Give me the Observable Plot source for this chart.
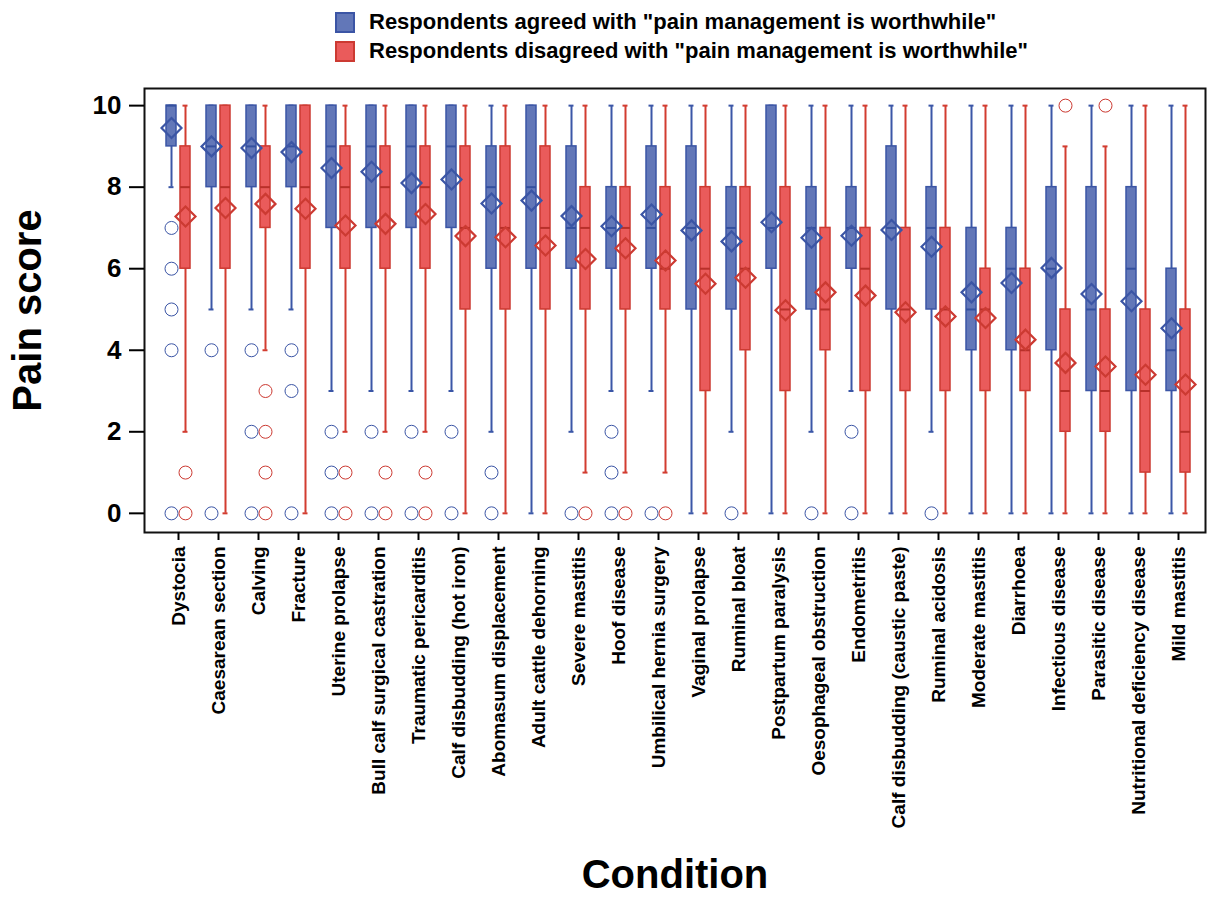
<!DOCTYPE html>
<html>
<head>
<meta charset="utf-8">
<script src="https://cdn.jsdelivr.net/npm/d3@7"></script>
<script src="https://cdn.jsdelivr.net/npm/@observablehq/plot@0.6"></script>
<style>
  body { margin: 0; background: #fff; font-family: "Liberation Sans", Arial, sans-serif; }
  #legend { position: relative; height: 70px; width: 1208px; }
  .sw { position: absolute; width: 20px; height: 21px; box-sizing: border-box; }
  .lt { position: absolute; font-weight: bold; font-size: 22px; color: #000; white-space: nowrap; }
</style>
</head>
<body>
<div id="legend">
  <div class="sw" style="left:335px;top:12px;background:#6277b8;border:2px solid #3b55a5"></div>
  <div class="lt" style="left:369px;top:9px">Respondents agreed with "pain management is worthwhile"</div>
  <div class="sw" style="left:335px;top:41px;background:#ea5b5b;border:2px solid #cc3a32"></div>
  <div class="lt" style="left:369px;top:38px">Respondents disagreed with "pain management is worthwhile"</div>
</div>
<div id="chart"></div>
<script>
const conditions = ["Dystocia","Caesarean section","Calving","Fracture","Uterine prolapse","Bull calf surgical castration","Traumatic pericarditis","Calf disbudding (hot iron)","Abomasum displacement","Adult cattle dehorning","Severe mastitis","Hoof disease","Umbilical hernia surgery","Vaginal prolapse","Ruminal bloat","Postpartum paralysis","Oesophageal obstruction","Endometritis","Calf disbudding (caustic paste)","Ruminal acidosis","Moderate mastitis","Diarrhoea","Infectious disease","Parasitic disease","Nutritional deficiency disease","Mild mastitis"];

// Agreed group (blue)
const agreeMin  = [8,5,5,5,3,3,3,3,2,0,2,3,3,0,2,0,2,3,0,2,0,0,0,0,0,0];
const agreeQ1   = [9,8,8,8,7,7,7,7,6,6,6,6,6,5,5,6,5,6,5,5,4,4,4,3,3,3];
const agreeMed  = [10,9,9,9,9,9,9,9,8,8,7,7,7,7,7,7,7,7,7,7,5,6,6,5,6,4];
const agreeQ3   = [10,10,10,10,10,10,10,10,9,10,9,8,9,9,8,10,8,8,9,8,7,7,8,8,8,6];
const agreeMax  = [10,10,10,10,10,10,10,10,10,10,10,10,10,10,10,10,10,10,10,10,10,10,10,10,10,10];
const agreeMean = [9.45,9.0,8.96,8.86,8.47,8.38,8.1,8.19,7.6,7.67,7.29,7.04,7.33,6.94,6.67,7.14,6.76,6.81,6.95,6.54,5.42,5.65,6.02,5.38,5.2,4.54];
const agreeOutliers = [[7,6,5,4,0],[4,0],[4,2,0],[4,3,0],[2,1,0],[2,0],[2,0],[2,0],[1,0],[],[0],[2,1,0],[0],[],[0],[],[0],[2,0],[],[0],[],[],[],[],[],[]];

// Disagreed group (red)
const disagreeMin  = [2,0,4,0,2,2,2,0,0,0,1,1,1,0,0,0,0,0,0,0,0,0,0,0,0,0];
const disagreeQ1   = [6,6,7,6,6,6,6,5,5,5,5,5,5,3,4,3,4,3,3,3,3,3,2,2,1,1];
const disagreeMed  = [8,8,8,8,8,8,8,7,7,7,7,7,6,6,6,5,5,6,5,5,5,4,3,3,3,2];
const disagreeQ3   = [9,10,9,10,9,9,9,9,9,9,8,8,8,8,8,8,7,7,7,7,6,6,5,5,5,5];
const disagreeMax  = [10,10,10,10,10,10,10,10,10,10,10,10,10,10,10,10,10,10,10,10,10,10,9,9,10,10];
const disagreeMean = [7.28,7.49,7.59,7.47,7.06,7.1,7.34,6.8,6.77,6.57,6.24,6.5,6.2,5.63,5.78,4.98,5.42,5.34,4.93,4.83,4.79,4.26,3.69,3.6,3.4,3.16];
const disagreeOutliers = [[1,0],[],[3,2,1,0],[],[1,0],[1,0],[1,0],[],[],[],[0],[0],[0],[],[],[],[],[],[],[],[],[],[10],[10],[],[]];

const yTicks = [0,2,4,6,8,10];

function rows(mn,q1,md,q3,mx,mean){
  return conditions.map((c,i)=>({condition:c,min:mn[i],q1:q1[i],med:md[i],q3:q3[i],max:mx[i],mean:mean[i]}));
}
function outs(o){
  return conditions.flatMap((c,i)=>o[i].map(v=>({condition:c,value:v})));
}
const A = rows(agreeMin,agreeQ1,agreeMed,agreeQ3,agreeMax,agreeMean);
const D = rows(disagreeMin,disagreeQ1,disagreeMed,disagreeQ3,disagreeMax,disagreeMean);
const AO = outs(agreeOutliers), DO = outs(disagreeOutliers);

const groups = [
  {data:A, out:AO, dx:-7, fill:"#6277b8", stroke:"#3b55a5", line:"#3b57a7", med:"#34509f"},
  {data:D, out:DO, dx:7, fill:"#ea5b5b", stroke:"#cc3a32", line:"#d23c30", med:"#b8302a"}
];

const marks = [];
for (const g of groups) {
  marks.push(Plot.ruleX(g.data,{x:"condition",y1:"min",y2:"max",stroke:g.line,strokeWidth:2,dx:g.dx}));
  marks.push(Plot.tickY(g.data,{x:"condition",y:"min",stroke:g.line,strokeWidth:2,dx:g.dx,insetLeft:5.5,insetRight:5.5}));
  marks.push(Plot.tickY(g.data,{x:"condition",y:"max",stroke:g.line,strokeWidth:2,dx:g.dx,insetLeft:5.5,insetRight:5.5}));
  marks.push(Plot.barY(g.data,{x:"condition",y1:"q1",y2:"q3",fill:g.fill,stroke:g.stroke,strokeWidth:1.5,dx:g.dx,insetLeft:3,insetRight:3}));
  marks.push(Plot.tickY(g.data,{x:"condition",y:"med",stroke:g.med,strokeWidth:2,dx:g.dx,insetLeft:3,insetRight:3}));
}
for (const g of groups) {
  marks.push(Plot.dot(g.out,{x:"condition",y:"value",r:6.5,stroke:g.stroke,strokeWidth:1,fill:"none",dx:g.dx}));
  marks.push(Plot.dot(g.data,{x:"condition",y:"mean",symbol:"diamond2",r:9,stroke:g.stroke,strokeWidth:2.2,fill:"none",dx:g.dx}));
}

const chart = Plot.plot({
  width: 1208,
  height: 828,
  marginLeft: 144,
  marginRight: 3,
  marginTop: 18,
  marginBottom: 366,
  style: {fontFamily: "'Liberation Sans', Arial, sans-serif", background: "#fff", color: "#000"},
  x: {domain: conditions, paddingInner: 0.6, paddingOuter: 0.5, align: 0.585},
  y: {domain: [-0.47, 10.42]},
  marks: [
    ...marks,
    Plot.frame({stroke:"#111", strokeWidth:2}),
    Plot.axisY({ticks: yTicks, tickSize: 15, tickPadding: 8, fontSize: 26, fontWeight: "bold", strokeWidth: 2, label: null}),
    Plot.axisX({tickRotate: -90, tickSize: 8, tickPadding: 6, fontSize: 19, fontWeight: "bold", strokeWidth: 2, label: null}),
    Plot.text(["Pain score"], {text: d => d, frameAnchor: "left", textAnchor: "middle", lineAnchor: "middle", dx: -116, rotate: -90, fontSize: 40, fontWeight: "bold"}),
    Plot.text(["Condition"], {text: d => d, frameAnchor: "bottom", textAnchor: "middle", lineAnchor: "middle", dy: 343, fontSize: 40, fontWeight: "bold"})
  ]
});
document.getElementById("chart").appendChild(chart);
</script>
</body>
</html>
